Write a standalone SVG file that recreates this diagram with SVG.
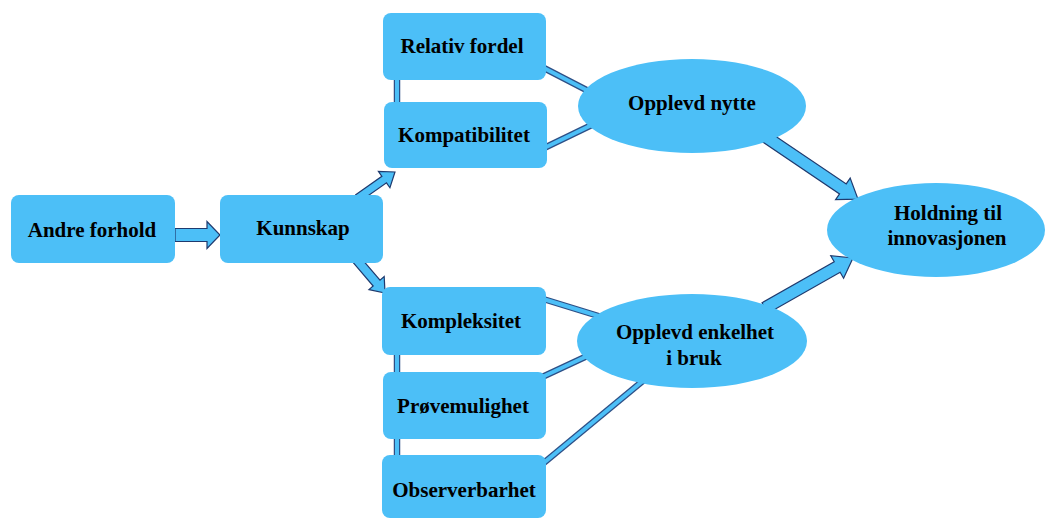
<svg xmlns="http://www.w3.org/2000/svg" width="1045" height="519" viewBox="0 0 1045 519">
<style>
.box{fill:#4CBFF7;}
.lbl{font-family:"Liberation Serif","Times New Roman",serif;font-weight:bold;font-size:21px;fill:#000;text-anchor:middle;}
.edge{stroke:#2D4F86;stroke-width:6.5;fill:none;stroke-linecap:butt;}
.core{stroke:#4CBFF7;stroke-width:4;fill:none;stroke-linecap:butt;}
.arrow{fill:#4CBFF7;stroke:#1F3A6E;stroke-width:1.2;stroke-linejoin:miter;}
</style>
<rect width="1045" height="519" fill="#fff"/>
<g id="connectors">
  <g id="c-relativ-nytte"><line class="edge" x1="540" y1="66" x2="600" y2="97"/><line class="core" x1="540" y1="66" x2="600" y2="97"/></g>
  <g id="c-kompat-nytte"><line class="edge" x1="540" y1="150" x2="600" y2="121"/><line class="core" x1="540" y1="150" x2="600" y2="121"/></g>
  <g id="c-kompleks-enkel"><line class="edge" x1="540" y1="298" x2="605" y2="318"/><line class="core" x1="540" y1="298" x2="605" y2="318"/></g>
  <g id="c-prove-enkel"><line class="edge" x1="540" y1="378" x2="600" y2="350"/><line class="core" x1="540" y1="378" x2="600" y2="350"/></g>
  <g id="c-observ-enkel"><line class="edge" x1="540" y1="466" x2="650" y2="375"/><line class="core" x1="540" y1="466" x2="650" y2="375"/></g>
  <g id="c-v1"><line class="edge" x1="397" y1="76" x2="397" y2="105"/><line class="core" x1="397" y1="76" x2="397" y2="105"/></g>
  <g id="c-v2"><line class="edge" x1="397" y1="352" x2="397" y2="375"/><line class="core" x1="397" y1="352" x2="397" y2="375"/></g>
  <g id="c-v3"><line class="edge" x1="397" y1="436" x2="397" y2="458"/><line class="core" x1="397" y1="436" x2="397" y2="458"/></g>
  <g id="a-andre-kunnskap" transform="translate(175,235)"><polygon class="arrow" points="0,-6.5 32,-6.5 32,-13.5 45,0 32,13.5 32,6.5 0,6.5"/></g>
  <g id="a-kunnskap-up" transform="translate(358,198) rotate(-35.1)"><polygon class="arrow" points="0,-4 32,-4 32,-10 45.2,0 32,10 32,4 0,4"/></g>
  <g id="a-kunnskap-down" transform="translate(356,259) rotate(49.5)"><polygon class="arrow" points="0,-4.5 31.7,-4.5 31.7,-10 44.7,0 31.7,10 31.7,4.5 0,4.5"/></g>
  <g id="a-nytte-holdning" transform="translate(760,133) rotate(34)"><polygon class="arrow" points="0,-6 100,-6 100,-13 118.2,0 100,13 100,6 0,6"/></g>
  <g id="a-enkel-holdning" transform="translate(765,308) rotate(-29.6)"><polygon class="arrow" points="0,-6 83,-6 83,-13 101.2,0 83,13 83,6 0,6"/></g>
</g>
<g id="andre-forhold"><rect class="box" x="11" y="195" width="164" height="68" rx="8"/><text class="lbl" x="92" y="237">Andre forhold</text></g>
<g id="kunnskap"><rect class="box" x="220" y="195" width="163" height="68" rx="8"/><text class="lbl" x="303" y="235">Kunnskap</text></g>
<g id="relativ-fordel"><rect class="box" x="383" y="13" width="163" height="67" rx="8"/><text class="lbl" x="462" y="53">Relativ fordel</text></g>
<g id="kompatibilitet"><rect class="box" x="384" y="102" width="163" height="66" rx="8"/><text class="lbl" x="464" y="142">Kompatibilitet</text></g>
<g id="kompleksitet"><rect class="box" x="382" y="287" width="164" height="68" rx="8"/><text class="lbl" x="461" y="328">Kompleksitet</text></g>
<g id="provemulighet"><rect class="box" x="383" y="372" width="163" height="67" rx="8"/><text class="lbl" x="463" y="413">Prøvemulighet</text></g>
<g id="observerbarhet"><rect class="box" x="382" y="455" width="164" height="63" rx="8"/><text class="lbl" x="464" y="497">Observerbarhet</text></g>
<g id="opplevd-nytte"><ellipse class="box" cx="692" cy="106" rx="114" ry="47"/><text class="lbl" x="692" y="110">Opplevd nytte</text></g>
<g id="opplevd-enkelhet"><ellipse class="box" cx="692" cy="341" rx="115" ry="47"/><text class="lbl" x="695" y="339">Opplevd enkelhet</text><text class="lbl" x="694" y="365">i bruk</text></g>
<g id="holdning"><ellipse class="box" cx="936" cy="230" rx="109" ry="47"/><text class="lbl" x="948" y="220">Holdning til</text><text class="lbl" x="947" y="245">innovasjonen</text></g>
</svg>
